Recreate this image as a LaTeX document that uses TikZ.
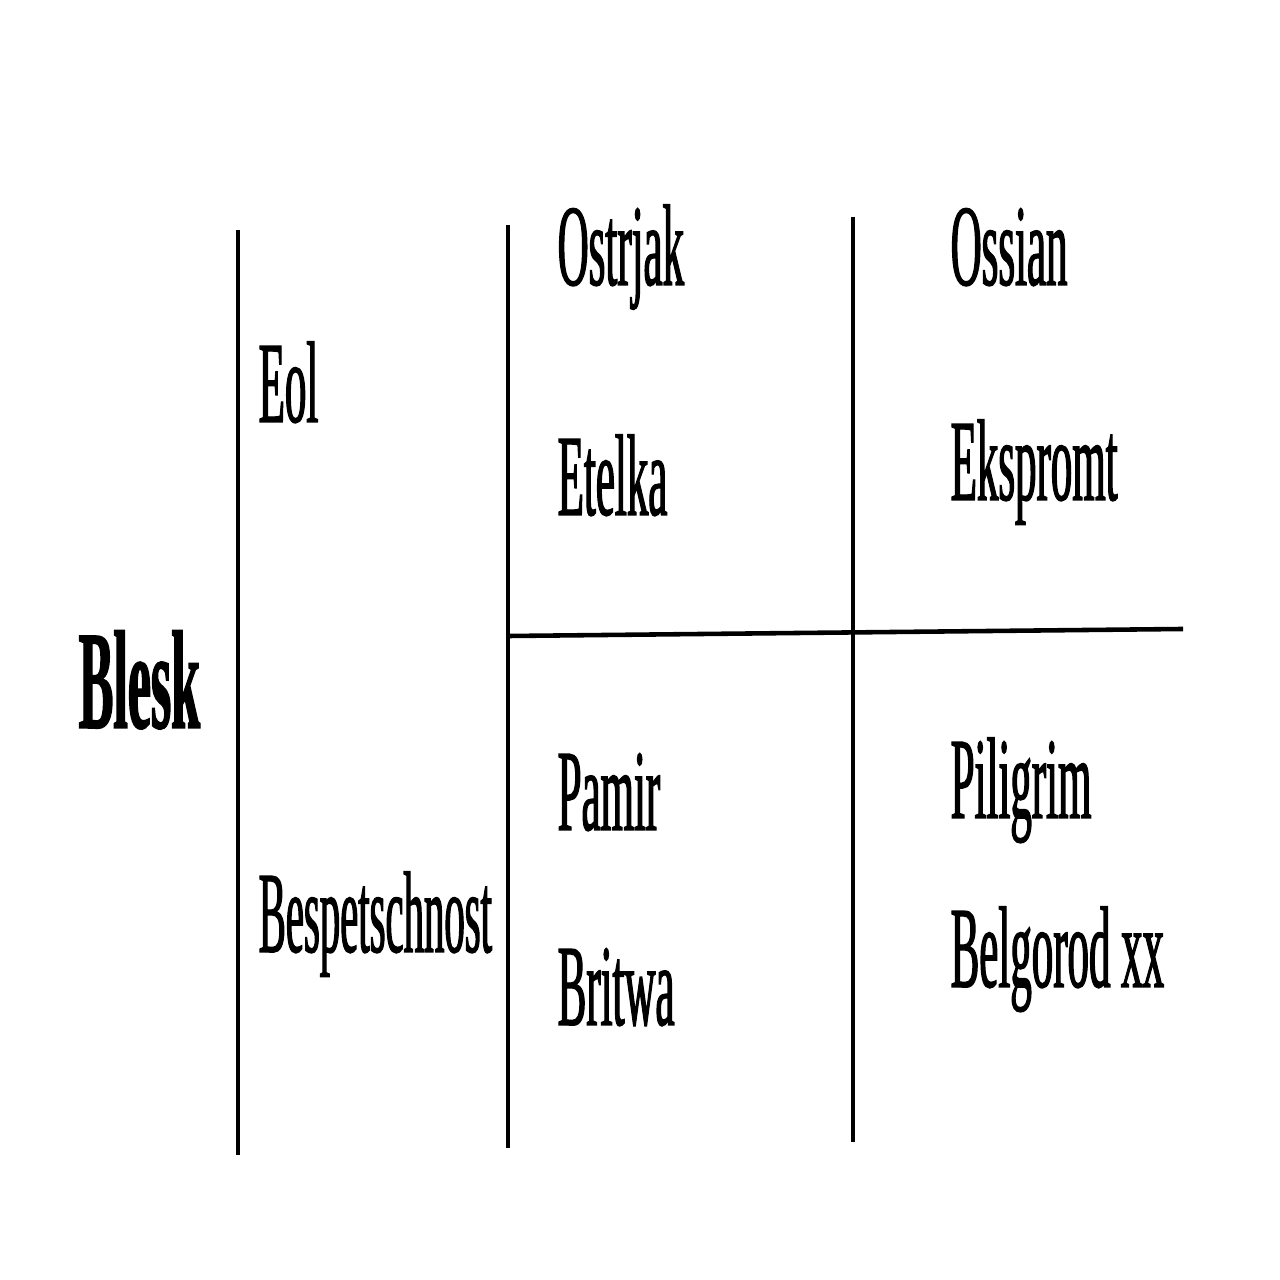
\documentclass[tikz,border=0pt]{standalone}
\usepackage{fontspec}
\setmainfont{Liberation Serif}[FakeStretch=0.37, FakeBold=1]
\begin{document}
\begin{tikzpicture}[
        horse/.style={anchor=base west, inner sep=0pt, font=\fontsize{33}{36}\selectfont},
        rule/.style={-, line width=1.3pt}
    ]
                \useasboundingbox (0,0) rectangle (12.8,12.8);
                % grid lines
                \coordinate (a1) at (2.38,10.50);
                \coordinate (a2) at (2.38,1.25);
                \coordinate (b1) at (5.08,10.55);
                \coordinate (b2) at (5.08,1.32);
                \coordinate (c1) at (8.53,10.63);
                \coordinate (c2) at (8.53,1.38);
                \coordinate (h1) at (5.10,6.44);
                \coordinate (h2) at (11.83,6.51);
                \draw[rule] (a1) -- (a2);
                \draw[rule] (b1) -- (b2);
                \draw[rule] (c1) -- (c2);
                \draw[rule] (h1) -- (h2);
                % horses
                \node[horse, font=\fontsize{40}{44}\selectfont\bfseries] (blesk) at (0.78,5.52) {Blesk};
                \node[horse] (eol) at (2.58,8.58) {Eol};
                \node[horse] (besp) at (2.58,3.28) {\scalebox{0.95}[1]{Bespetschnost}};
                \node[horse] (ostrjak) at (5.57,9.95) {Ostrjak};
                \node[horse] (etelka) at (5.57,7.65) {Etelka};
                \node[horse] (pamir) at (5.57,4.50) {Pamir};
                \node[horse] (britwa) at (5.57,2.55) {Britwa};
                \node[horse] (ossian) at (9.50,9.95) {Ossian};
                \node[horse] (ekspromt) at (9.50,7.80) {Ekspromt};
                \node[horse] (piligrim) at (9.50,4.62) {Piligrim};
                \node[horse] (belgorod) at (9.50,2.93) {Belgorod xx};
            \end{tikzpicture}
\end{document}
